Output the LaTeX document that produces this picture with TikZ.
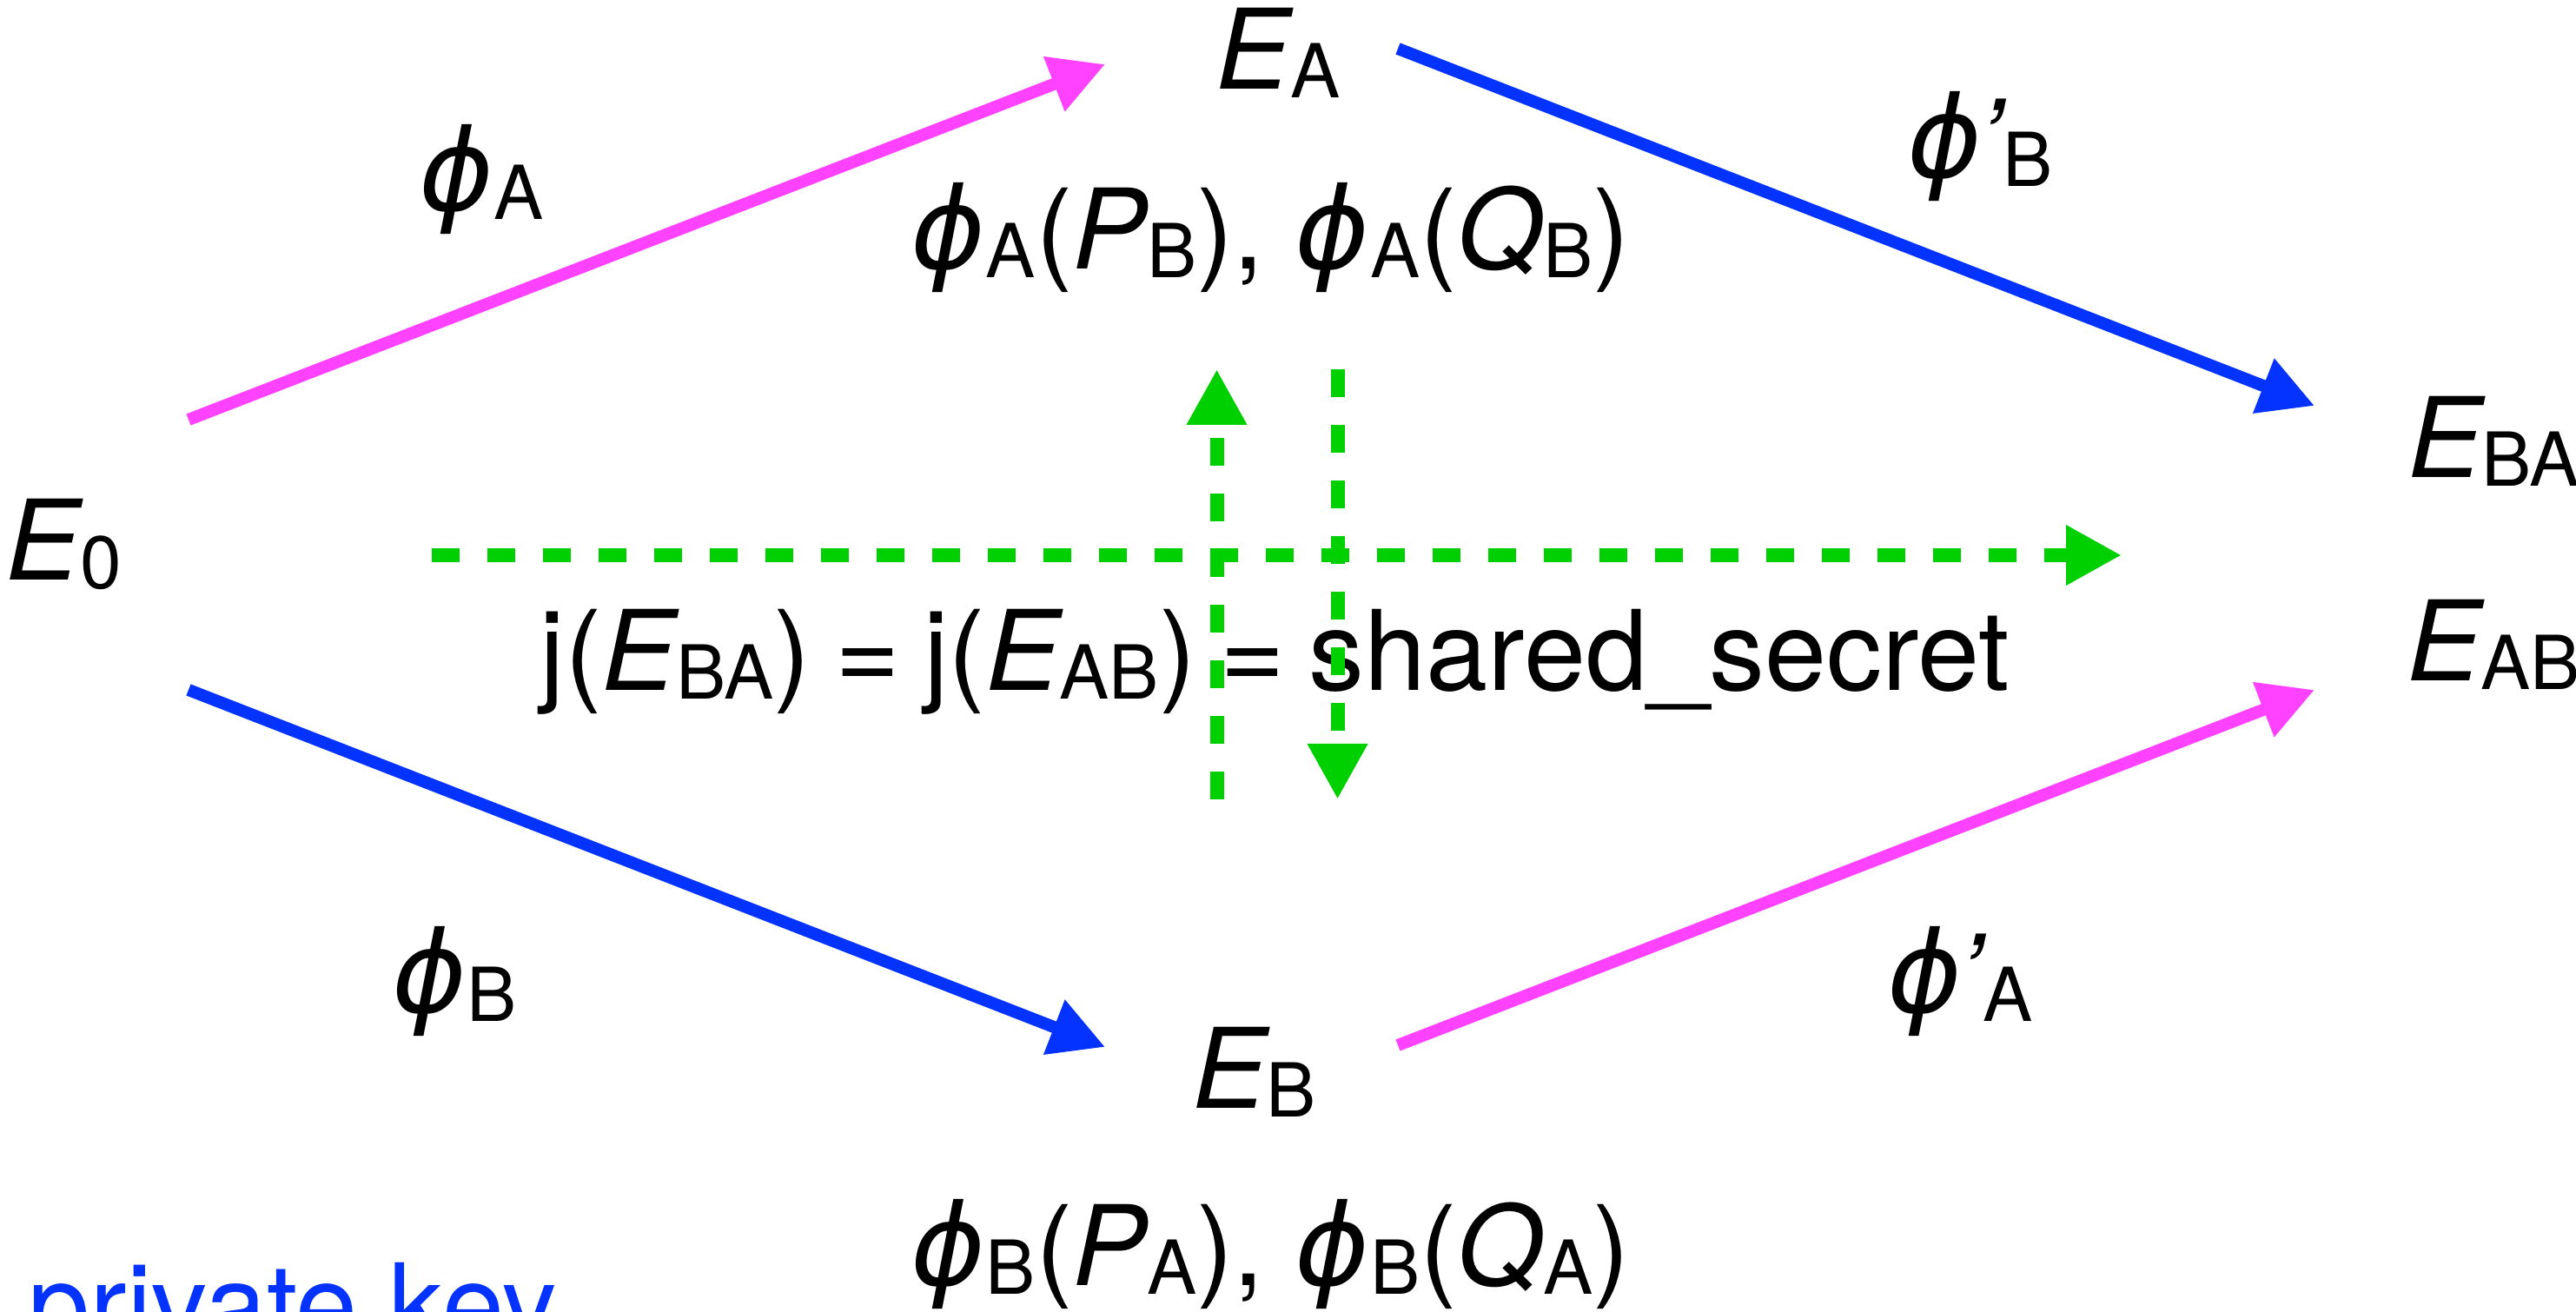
\documentclass[tikz,border=0pt]{standalone}
\usepackage{fontspec}
\setmainfont{TeX Gyre Heros}
\newfontfamily\grk[Scale=1.02]{DejaVu Sans}
\usepackage{tikz}
\usepackage{xcolor}
\usetikzlibrary{arrows.meta}
\definecolor{keypink}{RGB}{255,66,255}
\definecolor{keyblue}{RGB}{4,51,255}
\definecolor{secretgreen}{RGB}{0,207,0}
\newcommand{\lo}[1]{\raisebox{-0.1cm}{\fontsize{24.4}{28}\selectfont #1}}
\newcommand{\cE}{{\itshape E}}
\newcommand{\ph}{{\grk\itshape ϕ}}
\newcommand{\pr}{\kern-0.04em{\itshape ’}}

\begin{document}
\begin{tikzpicture}[x=1cm,y=1cm,
  lbl/.style={anchor=base,inner sep=0pt,font=\fontsize{36.4}{40}\selectfont},
  keyA/.style={line width=0.14cm,color=keypink,-{Triangle[length=0.63cm,width=0.64cm]}},
  keyB/.style={line width=0.14cm,color=keyblue,-{Triangle[length=0.63cm,width=0.64cm]}},
  share/.style={line width=0.16cm,color=secretgreen,dash pattern=on 0.32cm off 0.32cm,-{Triangle[length=0.64cm,width=0.65cm]}}]
  \useasboundingbox (0,0) rectangle (29.65,15.10);
  \node[lbl] (E0) at (0.735,8.42) {\cE\lo{0}};
  \node[lbl] (EA) at (14.71,14.07) {\cE\lo{A}};
  \node[lbl] (EB) at (14.435,2.34) {\cE\lo{B}};
  \node[lbl] (EBA) at (28.70,9.60) {\cE\lo{BA}};
  \node[lbl] (EAB) at (28.70,7.26) {\cE\lo{AB}};
  \node[lbl] (phiA) at (5.54,12.67) {\ph\lo{A}};
  \node[lbl] (phiB) at (5.235,3.44) {\ph\lo{B}};
  \node[lbl] (phiBp) at (22.79,13.05) {\ph\pr\lo{B}};
  \node[lbl] (phiAp) at (22.56,3.44) {\ph\pr\lo{A}};
  \node[lbl] (pubA) at (14.625,12.00) {\ph\lo{A}({\itshape P}\lo{B}), \ph\lo{A}({\itshape Q}\lo{B})};
  \node[lbl] (pubB) at (14.625,0.305) {\ph\lo{B}({\itshape P}\lo{A}), \ph\lo{B}({\itshape Q}\lo{A})};
  \node[lbl] (secret) at (14.675,7.15) {\spaceskip=0.215em j(\cE\lo{BA}) = j(\cE\lo{AB}) = shared\_secret};
  \node[lbl,text=keyblue] (priv) at (3.37,-0.37) {private key};
  \coordinate (pA0) at (2.17,10.27);  \coordinate (pA1) at (12.72,14.36);
  \coordinate (qB0) at (16.09,14.54); \coordinate (qB1) at (26.64,10.43);
  \coordinate (pB0) at (2.17,7.16);   \coordinate (pB1) at (12.72,3.05);
  \coordinate (qA0) at (16.09,3.07);  \coordinate (qA1) at (26.64,7.16);
  \coordinate (s0) at (4.97,8.71);    \coordinate (s1) at (24.42,8.71);
  \coordinate (u0) at (14.005,5.90);  \coordinate (u1) at (14.005,10.85);
  \coordinate (d0) at (15.395,10.85); \coordinate (d1) at (15.395,5.90);
  \foreach \s/\t/\k in {pA0/pA1/keyA,qB0/qB1/keyB,pB0/pB1/keyB,qA0/qA1/keyA}
    \draw[\k] (\s) -- (\t);
  \foreach \s/\t in {s0/s1,u0/u1,d0/d1}
    \draw[share] (\s) -- (\t);
\end{tikzpicture}
\end{document}
